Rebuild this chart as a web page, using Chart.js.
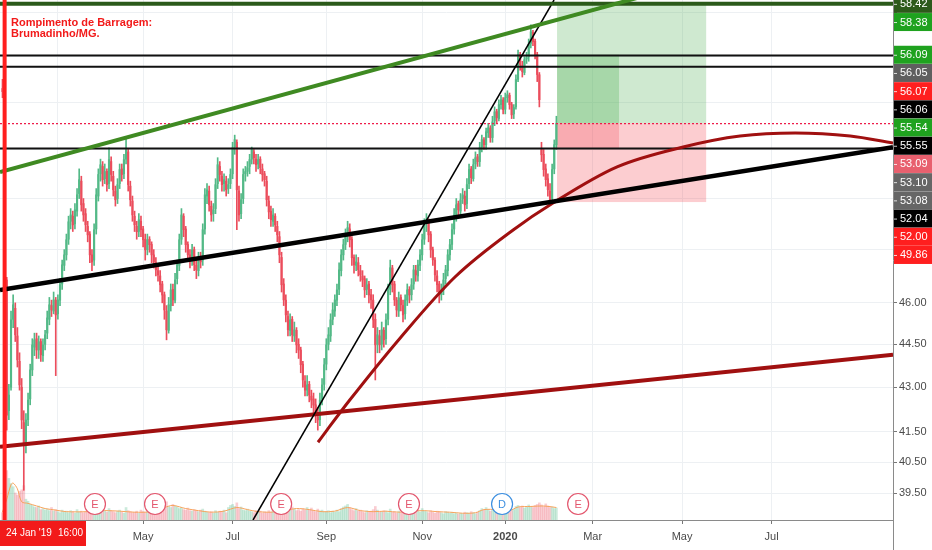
<!DOCTYPE html>
<html>
<head>
<meta charset="utf-8">
<title>Rompimento de Barragem: Brumadinho/MG.</title>
<script src="https://cdn.jsdelivr.net/npm/chart.js@4.4.1/dist/chart.umd.min.js"></script>
<style>
  html, body { margin: 0; padding: 0; background: #fff; }
  canvas { display: block; }
</style>
</head>
<body>
<canvas id="chart" width="932" height="550"></canvas>
<script>
// ============================================
// DATA (daily candles, bar 0 = 23 Jan 2019)
// ============================================
const opens = [
  54.60,54.50,46.85,42.20,43.00,45.40,45.80,44.80,43.90,43.00,
  41.80,41.10,41.90,42.60,43.60,44.40,44.70,44.30,44.60,44.10,
  44.50,44.90,45.40,45.90,45.70,46.10,45.60,46.10,46.70,47.40,
  47.80,48.40,49.10,49.30,49.00,49.50,50.20,50.70,49.80,49.40,
  48.90,48.60,47.80,47.60,48.80,50.10,51.00,51.30,50.80,51.10,
  50.60,51.50,50.90,50.30,50.00,50.60,51.20,51.00,51.60,51.90,
  50.50,49.90,49.30,48.90,48.70,49.10,48.80,48.40,48.00,48.40,
  48.20,47.80,47.50,47.20,47.00,46.70,46.30,45.70,45.00,45.90,
  46.50,46.10,46.90,47.40,48.40,49.30,48.80,48.20,47.80,47.60,
  48.00,47.40,47.20,47.70,47.60,48.80,50.10,50.30,49.70,49.40,
  49.60,50.60,51.30,50.90,50.60,50.70,50.40,50.60,51.00,52.10,
  52.30,50.30,49.40,50.00,51.00,51.10,51.30,51.60,51.90,51.60,
  51.40,51.60,51.20,51.00,50.70,49.90,49.50,49.10,49.30,48.90,
  48.50,47.70,46.70,46.10,45.50,45.00,45.40,44.80,45.00,44.50,
  44.30,43.80,43.20,42.90,43.10,42.70,42.60,42.40,42.00,41.90,
  42.60,43.10,43.80,44.50,44.80,45.40,45.70,46.10,46.50,47.20,
  47.80,48.20,48.60,48.80,48.40,47.70,47.40,47.50,47.20,47.00,
  46.90,46.50,46.70,46.30,46.10,45.40,44.50,44.80,44.50,45.00,
  44.70,45.40,46.50,47.30,46.70,46.10,45.70,46.20,45.90,45.60,
  46.10,46.50,46.30,46.70,47.20,47.00,47.40,47.80,48.40,49.00,
  49.10,48.60,48.00,47.60,47.00,46.70,46.30,46.50,46.90,47.20,
  47.80,48.20,48.80,49.30,49.80,49.50,50.00,50.10,49.80,50.60,
  51.20,50.80,51.40,51.70,51.50,52.10,52.40,52.20,52.70,52.90,
  52.50,53.20,53.60,53.30,53.90,54.10,53.70,54.20,54.30,53.90,
  53.50,53.80,55.00,56.10,55.60,55.30,55.90,56.00,56.60,57.10,
  56.70,56.10,55.20,52.00,51.80,51.20,50.80,50.30,50.00,51.20,
  52.20
];
const highs = [
  55.00,54.80,46.95,43.10,45.70,46.30,46.00,45.10,44.20,43.30,
  42.20,42.10,42.80,43.80,44.70,44.90,44.90,44.80,44.70,44.70,
  45.00,45.70,46.20,46.10,46.40,46.20,46.30,46.90,47.60,48.00,
  48.60,49.30,49.60,49.50,49.80,50.40,51.20,50.90,50.00,49.60,
  49.10,48.70,48.00,49.00,50.40,51.20,51.60,51.50,51.40,51.20,
  52.07,51.70,51.10,50.50,50.80,51.40,51.40,51.80,52.49,52.00,
  50.70,50.10,49.50,49.10,49.40,49.30,48.90,48.60,48.60,48.50,
  48.30,48.00,47.70,47.40,47.20,46.80,46.40,45.90,46.20,46.70,
  46.70,47.10,47.60,48.60,49.60,49.40,48.90,48.30,48.00,48.20,
  48.10,47.60,47.90,47.90,49.00,50.40,50.60,50.50,49.90,49.80,
  50.80,51.66,51.50,51.10,51.00,50.90,50.80,51.20,52.30,52.60,
  52.40,50.50,50.20,51.20,51.30,51.50,51.80,52.10,52.00,51.80,
  51.80,51.70,51.40,51.10,50.90,50.10,49.70,49.60,49.40,49.10,
  48.70,47.90,46.90,46.30,45.70,45.60,45.50,45.30,45.10,44.70,
  44.40,43.90,43.40,43.40,43.20,42.90,42.80,42.60,42.30,42.80,
  43.30,44.00,44.70,45.10,45.60,46.00,46.30,46.70,47.50,48.00,
  48.40,48.80,49.10,49.00,48.50,47.80,47.80,47.70,47.40,47.20,
  47.00,46.90,46.80,46.50,46.30,45.60,45.10,45.00,45.30,45.10,
  45.60,46.70,47.60,47.40,46.80,46.20,46.40,46.30,46.10,46.30,
  46.70,46.60,46.90,47.40,47.40,47.60,48.00,48.60,49.20,49.40,
  49.20,48.70,48.10,47.70,47.20,46.80,46.70,47.10,47.40,48.00,
  48.40,49.00,49.60,50.00,49.90,50.20,50.40,50.30,50.80,51.40,
  51.30,51.60,51.90,51.80,52.30,52.60,52.50,52.90,53.10,53.00,
  53.40,53.80,53.70,54.10,54.30,54.20,54.40,54.50,54.40,54.00,
  53.90,55.20,56.30,56.20,55.80,56.00,56.20,56.80,57.45,57.20,
  56.80,56.20,55.30,52.30,52.00,51.40,51.00,50.60,51.40,52.40,
  53.40
];
const lows = [
  54.20,54.00,41.55,41.90,42.90,45.10,44.60,43.70,42.90,41.60,
  39.60,40.80,41.70,42.40,43.40,44.10,44.00,44.00,43.90,43.90,
  44.30,44.70,45.20,45.50,45.60,43.40,45.40,45.90,46.50,47.20,
  47.60,48.20,48.80,48.70,48.80,49.30,50.00,49.50,49.10,48.70,
  48.30,47.50,47.20,47.40,48.60,49.90,50.70,50.50,50.60,50.30,
  50.40,50.70,50.10,49.70,49.80,50.40,50.70,50.80,51.40,50.30,
  49.70,49.10,48.70,48.40,48.50,48.50,48.10,47.60,47.80,47.90,
  47.50,47.30,47.00,46.80,46.40,46.00,45.40,44.66,44.90,45.70,
  45.90,46.00,46.70,47.20,48.20,48.50,47.90,47.60,47.30,47.40,
  47.20,46.90,47.00,47.30,47.40,48.60,49.80,49.50,49.10,49.10,
  49.40,50.40,50.70,50.30,50.30,50.10,50.20,50.40,50.80,51.80,
  48.77,49.10,49.20,49.80,50.70,50.90,51.00,51.40,51.40,51.10,
  51.20,51.00,50.70,50.50,49.70,49.20,48.90,48.90,48.70,48.30,
  47.50,46.40,45.90,45.30,44.80,44.80,44.60,44.60,44.20,44.00,
  43.50,43.00,42.70,42.70,42.50,42.30,42.10,41.80,41.55,41.70,
  42.40,42.90,43.60,44.30,44.60,45.20,45.50,45.90,46.30,47.00,
  47.60,48.00,48.30,48.10,47.40,47.10,47.20,47.00,46.80,46.60,
  46.20,46.30,46.00,45.80,45.10,43.25,44.20,44.20,44.30,44.40,
  44.50,45.20,46.30,46.40,45.90,45.50,45.50,45.70,45.30,45.40,
  45.90,46.00,46.10,46.50,46.80,46.80,47.20,47.60,48.20,48.70,
  48.30,47.70,47.40,46.80,46.40,46.00,46.10,46.30,46.70,47.00,
  47.60,48.00,48.60,49.10,49.30,49.30,49.80,49.50,49.60,50.40,
  50.60,50.70,51.20,51.30,51.30,51.90,52.00,52.00,52.50,52.30,
  52.30,53.00,53.10,53.20,53.70,53.50,53.50,54.00,53.70,53.30,
  53.30,53.70,54.90,55.40,55.10,55.20,55.70,55.80,56.40,56.50,
  55.90,54.90,53.80,51.50,50.90,50.50,50.10,49.80,49.90,51.00,
  52.00
];
const closes = [
  54.46,54.24,42.05,42.73,45.38,45.93,44.84,43.95,43.08,41.89,
  41.05,41.89,42.56,43.60,44.48,44.66,44.30,44.59,44.13,44.48,
  44.84,45.45,45.93,45.74,46.11,45.56,46.11,46.67,47.42,47.80,
  48.38,49.08,49.35,48.96,49.55,50.15,50.76,49.75,49.35,48.96,
  48.57,47.80,47.53,48.77,50.15,50.97,51.37,50.76,51.09,50.56,
  51.58,50.97,50.35,49.95,50.56,51.17,50.97,51.58,51.99,50.56,
  49.95,49.35,48.96,48.69,49.16,48.77,48.38,47.99,48.38,48.19,
  47.80,47.53,47.23,47.04,46.67,46.29,45.74,45.02,45.93,46.48,
  46.11,46.85,47.42,48.38,49.35,48.77,48.19,47.80,47.61,47.99,
  47.42,47.23,47.69,47.53,48.77,50.15,50.35,49.75,49.35,49.55,
  50.56,51.37,50.97,50.56,50.76,50.35,50.56,50.97,52.07,52.41,
  50.35,49.35,49.95,50.97,51.09,51.25,51.58,51.99,51.66,51.37,
  51.58,51.25,50.97,50.76,49.95,49.47,49.16,49.35,48.96,48.57,
  47.80,46.67,46.11,45.56,45.02,45.38,44.84,45.02,44.48,44.30,
  43.78,43.25,42.90,43.08,42.73,42.56,42.39,42.05,41.89,42.56,
  43.08,43.78,44.48,44.84,45.38,45.74,46.11,46.48,47.23,47.80,
  48.19,48.57,48.85,48.38,47.69,47.42,47.53,47.23,47.04,46.85,
  46.48,46.67,46.29,46.11,45.38,44.48,44.84,44.48,45.02,44.66,
  45.38,46.48,47.31,46.67,46.11,45.74,46.18,45.93,45.56,46.11,
  46.48,46.29,46.67,47.23,47.04,47.42,47.80,48.38,48.96,49.16,
  48.57,47.99,47.61,47.04,46.67,46.29,46.48,46.85,47.23,47.80,
  48.19,48.77,49.35,49.75,49.55,49.95,50.15,49.75,50.56,51.17,
  50.84,51.37,51.66,51.50,52.07,52.41,52.20,52.74,52.91,52.49,
  53.16,53.59,53.34,53.90,54.11,53.68,54.20,54.33,53.90,53.46,
  53.77,54.99,56.10,55.65,55.34,55.87,55.96,56.55,57.13,56.68,
  56.10,55.21,54.11,51.78,51.17,50.76,50.35,49.95,51.17,52.20,
  53.09
];
const volumes = [
  14,16,95,80,70,64,52,48,55,58, 66,40,36,30,28,25,24,27,20,22,
  19,21,18,24,17,20,16,14,19,15, 17,14,18,16,13,20,15,17,14,16,
  18,15,19,17,22,16,18,20,17,15, 22,18,16,14,17,19,15,13,24,18,
  16,14,15,17,13,19,16,14,18,15, 20,17,22,26,24,28,31,35,26,24,
  30,27,25,22,24,20,19,23,18,17, 20,18,16,19,21,17,15,14,16,13,
  18,15,17,16,19,14,24,28,30,26, 33,22,25,19,18,21,17,16,14,18,
  15,17,13,16,14,18,15,19,17,21, 24,20,23,26,22,19,25,21,18,20,
  17,22,19,24,20,23,18,16,21,17, 19,15,16,18,14,17,15,19,16,22,
  25,27,30,24,20,18,22,17,19,16, 14,18,15,17,20,26,19,16,15,18,
  17,14,21,15,16,13,17,14,18,15, 19,16,14,17,20,18,15,22,17,16,
  14,18,15,13,17,16,14,12,16,15, 13,15,12,14,11,13,12,15,14,13,
  16,14,12,15,18,22,19,24,20,17, 19,21,16,22,18,17,15,19,16,18,
  20,26,28,24,27,23,25,29,26,24, 28,30,33,29,26,31,27,24,25,22,
  23
];
// volume moving average
const volMaIdx = [0,2,4,5,7,9,12,16,20,25,30,40,48,55,62,70,76,80,86,92,98,104,110,115,120,
  126,132,138,144,150,156,162,168,174,180,186,192,198,204,210,216,222,226,232,238,242,248,254,260];
const volMaVals = [15,40,68,71,60,35,32,27,22,19,16,16,18,17,15,16,24,28,22,18,15,17,24,20,16,
  15,18,22,20,16,17,24,18,16,17,15,17,18,16,15,13,14,20,20,18,25,26,27,24];

// axis ticks
const monthTickIdx = [26, 66, 108, 152, 197, 236, 277, 319, 361];
const monthTickLabels = ['Mar', 'May', 'Jul', 'Sep', 'Nov', '2020', 'Mar', 'May', 'Jul'];
const priceTicks = [39.5, 40.5, 41.5, 43, 44.5, 46, 48, 50, 52, 54, 56, 58];

// drawings, in (bar index, price)
const greenTrend = [[-1.17, 51.07], [418, 62.07]];
const blackTrend = [[-1.17, 46.47], [418, 52.09]];
const thinTrend = [[117.6, 38.67], [258.9, 58.6]];
const redTrend = [[-1.17, 41.00], [418, 44.13]];
const arcIdx = [148.1, 152.4, 163.1, 186.6, 212.4, 239.7, 258.4, 288.5, 319.5, 346.2, 372.1, 397.9, 418];
const arcPrices = [41.15, 41.56, 42.57, 44.72, 46.96, 48.76, 49.82, 51.28, 52.10, 52.56, 52.69, 52.56, 52.27];
const levelLines = [56.06, 55.55, 52.04];
const topLevel = 58.42;
const damBreakIdx = 1;

// long position tool
const posStartIdx = 260.3, posFillIdx = 289.4, posEndIdx = 330.3;
const posTarget = 58.38, posHigh = 56.09, posEntry = 53.10, posLow = 52.04, posStop = 49.86;

// events (earnings / dividends)
const eventIdx = [43.4, 71.6, 130.8, 190.8, 234.5, 270.2];
const eventTypes = ['E', 'E', 'E', 'E', 'D', 'E'];

// price labels on the right axis
const badgeLabels = ['58.42','58.38','56.09','56.05','56.07','56.06','55.54','55.55','53.09','53.10','53.08','52.04','52.00','49.86'];
const badgeColors = ['#2d5a1b','#1fa21f','#1fa21f','#5f5f5f','#ff1f1f','#000000','#1fa21f','#000000','#e8606e','#666666','#666666','#000000','#ff1f1f','#ff1f1f'];

// ============================================
// CHART SETUP
// ============================================
const X_MIN = -1.17, X_MAX = 418;
const Y_MIN = 38.67, Y_MAX = 58.6;
const FONT = "'Liberation Sans', Arial, sans-serif";
Chart.defaults.font.family = FONT;
Chart.defaults.font.size = 11;

const upColor = '#53b987';
const downColor = '#eb4d5c';
const candleColors = closes.map((c, i) => c >= opens[i] ? upColor : downColor);
const volColors = closes.map((c, i) => c >= opens[i] ? 'rgba(83,185,135,0.3)' : 'rgba(235,77,92,0.28)');
const lastClose = closes[closes.length - 1];

function segment(points, color, width, order, extra) {
  return Object.assign({
    type: 'line',
    data: points.map(p => ({ x: p[0], y: p[1] })),
    borderColor: color,
    borderWidth: width,
    pointRadius: 0,
    fill: false,
    tension: 0,
    clip: 0,
    yAxisID: 'y',
    order: order
  }, extra || {});
}

const datasets = [
  segment([[damBreakIdx, Y_MIN], [damBreakIdx, Y_MAX]], '#ff1e1e', 4, 0),
  segment(greenTrend, '#3f8a22', 4, 1),
  segment([[X_MIN, topLevel], [X_MAX, topLevel]], '#2b5a1a', 4, 1),
  segment(blackTrend, '#000000', 4.5, 1),
  segment(thinTrend, '#000000', 1.5, 1),
  segment(redTrend, '#a01010', 4, 1),
  segment(arcIdx.map((v, i) => [v, arcPrices[i]]), '#a01010', 3, 1, { cubicInterpolationMode: 'monotone' }),
  ...levelLines.map(p => segment([[X_MIN, p], [X_MAX, p]], '#111111', 2, 1)),
  segment([[X_MIN, lastClose], [X_MAX, lastClose]], '#ee1c4a', 1.2, 2, { borderDash: [2, 2] }),
  {
    type: 'bar',
    data: closes.map((c, i) => ({ x: i, y: [opens[i], c] })),
    backgroundColor: candleColors,
    barThickness: 1.5,
    minBarLength: 1,
    grouped: false,
    yAxisID: 'y',
    order: 3
  },
  {
    type: 'bar',
    data: closes.map((c, i) => ({ x: i, y: [lows[i], highs[i]] })),
    backgroundColor: candleColors,
    barThickness: 1,
    grouped: false,
    yAxisID: 'y',
    order: 4
  },
  {
    type: 'line',
    data: volMaIdx.map((v, i) => ({ x: v, y: volMaVals[i] })),
    borderColor: '#f7a35c',
    borderWidth: 1,
    pointRadius: 0,
    tension: 0.3,
    yAxisID: 'y2',
    order: 5
  },
  {
    type: 'bar',
    data: volumes.map((v, i) => ({ x: i, y: v })),
    backgroundColor: volColors,
    barThickness: 2,
    grouped: false,
    yAxisID: 'y2',
    order: 6
  }
];

// position boxes under the candles
const positionBoxes = {
  id: 'positionBoxes',
  beforeDatasetsDraw(chart) {
    const { ctx, chartArea, scales: { x, y } } = chart;
    const x0 = x.getPixelForValue(posStartIdx);
    const x1 = x.getPixelForValue(posEndIdx);
    const xf = x.getPixelForValue(posFillIdx);
    const yT = y.getPixelForValue(posTarget);
    const yH = y.getPixelForValue(posHigh);
    const yE = y.getPixelForValue(posEntry);
    const yL = y.getPixelForValue(posLow);
    const yS = y.getPixelForValue(posStop);
    ctx.save();
    ctx.beginPath();
    ctx.rect(chartArea.left, chartArea.top, chartArea.width, chartArea.height);
    ctx.clip();
    ctx.fillStyle = 'rgba(76,175,80,0.27)';
    ctx.fillRect(x0, yT, x1 - x0, yE - yT);
    ctx.fillStyle = 'rgba(242,54,69,0.25)';
    ctx.fillRect(x0, yE, x1 - x0, yS - yE);
    ctx.fillStyle = 'rgba(76,175,80,0.3)';
    ctx.fillRect(x0, yH, xf - x0, yE - yH);
    ctx.fillStyle = 'rgba(242,54,69,0.22)';
    ctx.fillRect(x0, yE, xf - x0, yL - yE);
    ctx.restore();
  }
};

// event circles and note text
const overlays = {
  id: 'overlays',
  afterDatasetsDraw(chart) {
    const { ctx, chartArea, scales: { x } } = chart;
    ctx.save();
    eventIdx.forEach((v, i) => {
      const cx = x.getPixelForValue(v);
      const cy = chartArea.bottom - 16;
      const col = eventTypes[i] === 'D' ? '#3d8fe0' : '#e3566d';
      ctx.beginPath();
      ctx.arc(cx, cy, 10.5, 0, Math.PI * 2);
      ctx.fillStyle = '#ffffff';
      ctx.fill();
      ctx.lineWidth = 1.2;
      ctx.strokeStyle = col;
      ctx.stroke();
      ctx.fillStyle = col;
      ctx.font = '11px ' + FONT;
      ctx.textAlign = 'center';
      ctx.textBaseline = 'middle';
      ctx.fillText(eventTypes[i], cx, cy + 0.5);
    });
    ctx.fillStyle = '#f21a1a';
    ctx.font = 'bold 11px ' + FONT;
    ctx.textAlign = 'left';
    ctx.textBaseline = 'alphabetic';
    ctx.fillText('Rompimento de Barragem:', 11, 26);
    ctx.fillText('Brumadinho/MG.', 11, 37);
    ctx.restore();
  }
};

// price badges on the right axis and the date badge
const badges = {
  id: 'badges',
  afterDraw(chart) {
    const { ctx, chartArea, scales: { y } } = chart;
    ctx.save();
    ctx.strokeStyle = '#8a8a8a';
    ctx.lineWidth = 1;
    ctx.beginPath();
    ctx.moveTo(chartArea.right + 0.5, chartArea.bottom);
    ctx.lineTo(chartArea.right + 0.5, chart.height);
    ctx.stroke();

    let prev = -Infinity;
    ctx.font = '11px ' + FONT;
    ctx.textBaseline = 'middle';
    ctx.textAlign = 'left';
    badgeLabels.forEach((lab, i) => {
      const cy = Math.max(y.getPixelForValue(parseFloat(lab)), prev + 18.2);
      prev = cy;
      ctx.fillStyle = badgeColors[i];
      ctx.fillRect(chartArea.right + 1, cy - 9, chart.width - chartArea.right - 1, 18);
      ctx.strokeStyle = 'rgba(255,255,255,0.8)';
      ctx.beginPath();
      ctx.moveTo(chartArea.right + 1, cy + 0.5);
      ctx.lineTo(chartArea.right + 4, cy + 0.5);
      ctx.stroke();
      ctx.fillStyle = '#ffffff';
      ctx.fillText(lab, chartArea.right + 7, cy + 0.5);
    });

    ctx.fillStyle = '#f21a1a';
    ctx.fillRect(0, chartArea.bottom + 1, 86, 25);
    ctx.fillStyle = '#ffffff';
    ctx.font = '10px ' + FONT;
    ctx.textBaseline = 'middle';
    ctx.fillText("24 Jan '19", 6, chartArea.bottom + 13.5);
    ctx.fillText('16:00', 58, chartArea.bottom + 13.5);
    ctx.restore();
  }
};

new Chart(document.getElementById('chart'), {
  type: 'line',
  data: { datasets: datasets },
  plugins: [positionBoxes, overlays, badges],
  options: {
    responsive: false,
    animation: false,
    events: [],
    layout: { padding: 0, autoPadding: false },
    plugins: { legend: { display: false }, tooltip: { enabled: false } },
    scales: {
      x: {
        type: 'linear',
        min: X_MIN,
        max: X_MAX,
        offset: false,
        afterBuildTicks: (scale) => { scale.ticks = monthTickIdx.map(v => ({ value: v })); },
        afterFit: (scale) => { scale.height = 30; scale.paddingLeft = 0; scale.paddingRight = 0; },
        grid: { color: '#edf0f3', tickColor: '#777', tickLength: 4, offset: false },
        border: { color: '#8a8a8a' },
        ticks: {
          autoSkip: false,
          maxRotation: 0,
          padding: 6,
          color: '#4a4a4a',
          font: (ctx) => ({
            family: FONT,
            size: 11,
            weight: ctx.tick && monthTickLabels[monthTickIdx.indexOf(ctx.tick.value)] === '2020' ? 'bold' : 'normal'
          }),
          callback: (v) => monthTickLabels[monthTickIdx.indexOf(v)] || ''
        }
      },
      y: {
        type: 'logarithmic',
        position: 'right',
        min: Y_MIN,
        max: Y_MAX,
        afterBuildTicks: (scale) => { scale.ticks = priceTicks.map(v => ({ value: v })); },
        afterFit: (scale) => { scale.width = 39; scale.paddingTop = 0; scale.paddingBottom = 0; },
        grid: { color: '#edf0f3', tickColor: '#777', tickLength: 4 },
        border: { color: '#8a8a8a' },
        ticks: {
          padding: 2,
          color: '#4a4a4a',
          callback: (v) => v <= 46 ? Number(v).toFixed(2) : ''
        }
      },
      y2: {
        type: 'linear',
        display: false,
        min: 0,
        max: 1000
      }
    }
  }
});
</script>
</body>
</html>
